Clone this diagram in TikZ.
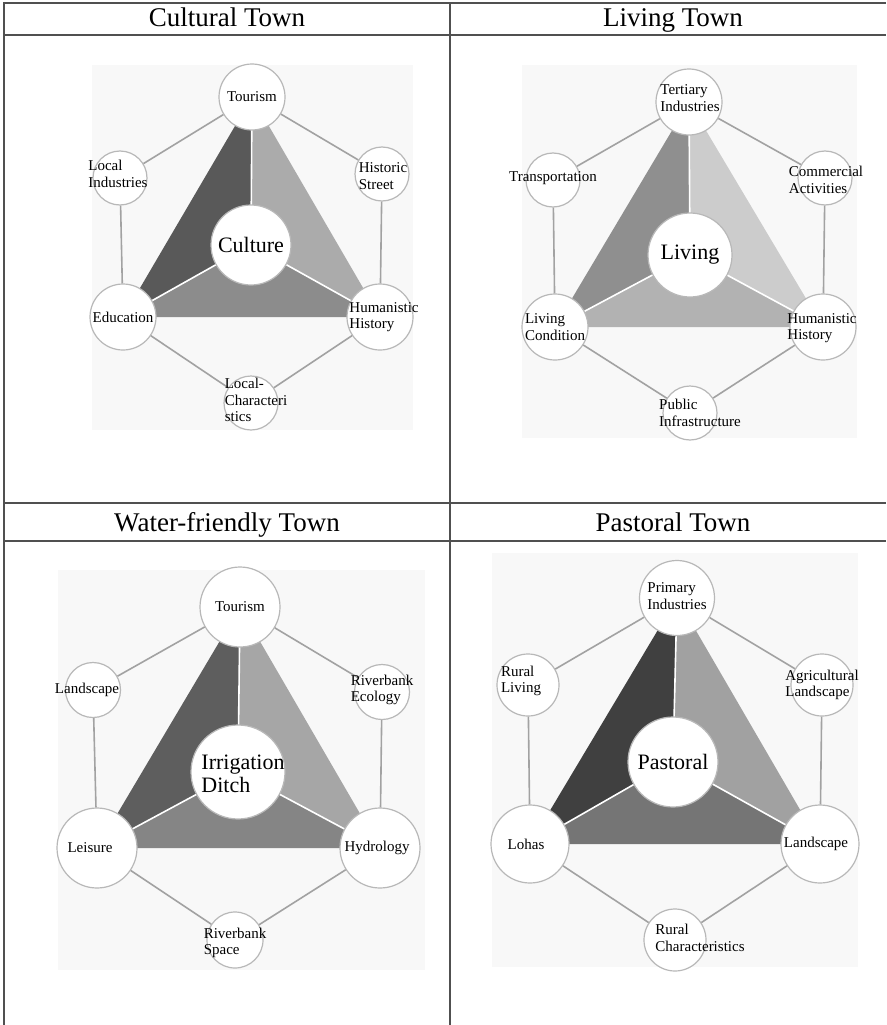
\documentclass[tikz,border=0pt]{standalone}
\usepackage{fontspec}
\setmainfont{Liberation Serif}
\usepackage{tikz}

\definecolor{rulegray}{HTML}{505050}
\definecolor{ringgray}{HTML}{B8B8B8}
\definecolor{linkgray}{HTML}{A2A2A2}
\definecolor{panelbg}{HTML}{F8F8F8}

\begin{document}
\begin{tikzpicture}[x=1pt, y=-1pt,
	rule/.style={draw=rulegray, line width=1.3pt},
	head/.style={font=\fontsize{27}{29}\selectfont, inner sep=0pt, anchor=base},
	ring/.style={circle, draw=ringgray, line width=1.2pt, fill=white, inner sep=0pt},
	link/.style={draw=linkgray, line width=1.6pt},
	split/.style={draw=white, line width=1.6pt},
	lbl/.style={align=left, inner sep=0pt, font=\fontsize{15}{16.5}\selectfont},
	core/.style={align=left, inner sep=0pt, font=\fontsize{22}{23}\selectfont}]
	\useasboundingbox (0,0) rectangle (886,1025);

	% table frame
	\draw[rule] (4,1025) -- (4,3) -- (886,3);
	\draw[rule] (4,35) -- (886,35);
	\draw[rule] (4,503) -- (886,503);
	\draw[rule] (4,541) -- (886,541);
	\draw[rule] (450,3) -- (450,1025);
	\node[head] (h1) at (227,27) {Cultural Town};
	\node[head] (h2) at (673,27) {Living Town};
	\node[head] (h3) at (227,531) {Water-friendly Town};
	\node[head] (h4) at (673,531) {Pastoral Town};

	% Cultural town
	\fill[panelbg] (92,65) rectangle (413,430);
	\coordinate (a1) at (252,97);
	\coordinate (a2) at (123,317);
	\coordinate (a3) at (380,317);
	\coordinate (a0) at (251,245);
	\fill[black!65] (a1) -- (a2) -- (a0) -- cycle;
	\fill[black!33] (a1) -- (a3) -- (a0) -- cycle;
	\fill[black!45] (a2) -- (a3) -- (a0) -- cycle;
	\path[split] (a0) -- (a1) (a0) -- (a2) (a0) -- (a3);
	\node[ring, minimum size=66] (tour) at (a1) {};
	\node[ring, minimum size=66] (edu) at (a2) {};
	\node[ring, minimum size=66] (hum) at (a3) {};
	\node[ring, minimum size=80] (cult) at (a0) {};
	\node[ring, minimum size=54] (ind) at (120,178) {};
	\node[ring, minimum size=54] (street) at (382,174) {};
	\node[ring, minimum size=54] (local) at (251,403) {};
	\path (tour) edge[link] (ind)
		(ind) edge[link] (edu)
		(edu) edge[link] (local)
		(local) edge[link] (hum)
		(hum) edge[link] (street)
		(street) edge[link] (tour);
	\node[lbl] at (252,97) {Tourism};
	\node[core] at (251,245) {Culture};
	\node[lbl] at (118,174) {Local\\Industries};
	\node[lbl] at (383,176) {Historic\\Street};
	\node[lbl] at (123,317) {Education};
	\node[lbl] at (384,317) {Humanistic\\History};
	\node[lbl] at (256,400) {Local-\\Characteri\\stics};

	% Living town
	\fill[panelbg] (522,65) rectangle (857,438);
	\coordinate (b1) at (689,102);
	\coordinate (b2) at (555,327);
	\coordinate (b3) at (823,327);
	\coordinate (b0) at (690,255);
	\fill[black!44] (b1) -- (b2) -- (b0) -- cycle;
	\fill[black!20] (b1) -- (b3) -- (b0) -- cycle;
	\fill[black!30] (b2) -- (b3) -- (b0) -- cycle;
	\path[split] (b0) -- (b1) (b0) -- (b2) (b0) -- (b3);
	\node[ring, minimum size=66] (tert) at (b1) {};
	\node[ring, minimum size=66] (cond) at (b2) {};
	\node[ring, minimum size=66] (hist) at (b3) {};
	\node[ring, minimum size=84] (liv) at (b0) {};
	\node[ring, minimum size=54] (trans) at (553,180) {};
	\node[ring, minimum size=54] (comm) at (825,178) {};
	\node[ring, minimum size=54] (pub) at (690,413) {};
	\path (tert) edge[link] (trans)
		(trans) edge[link] (cond)
		(cond) edge[link] (pub)
		(pub) edge[link] (hist)
		(hist) edge[link] (comm)
		(comm) edge[link] (tert);
	\node[lbl] at (690,98) {Tertiary\\Industries};
	\node[lbl] at (553,178) {Transportation};
	\node[lbl] at (826,180) {Commercial\\Activities};
	\node[core] at (690,255) {Living};
	\node[lbl] at (555,327) {Living\\Condition};
	\node[lbl] at (822,328) {Humanistic\\History};
	\node[lbl] at (700,413) {Public\\Infrastructure};

	% Water-friendly town
	\fill[panelbg] (58,570) rectangle (425,970);
	\coordinate (c1) at (240,607);
	\coordinate (c2) at (97,848);
	\coordinate (c3) at (380,848);
	\coordinate (c0) at (238,772);
	\fill[black!63] (c1) -- (c2) -- (c0) -- cycle;
	\fill[black!35] (c1) -- (c3) -- (c0) -- cycle;
	\fill[black!48] (c2) -- (c3) -- (c0) -- cycle;
	\path[split] (c0) -- (c1) (c0) -- (c2) (c0) -- (c3);
	\node[ring, minimum size=80] (wtour) at (c1) {};
	\node[ring, minimum size=80] (leis) at (c2) {};
	\node[ring, minimum size=80] (hydro) at (c3) {};
	\node[ring, minimum size=94] (ditch) at (c0) {};
	\node[ring, minimum size=55] (land) at (93,690) {};
	\node[ring, minimum size=55] (eco) at (382,692) {};
	\node[ring, minimum size=56] (space) at (235,940) {};
	\path (wtour) edge[link] (land)
		(land) edge[link] (leis)
		(leis) edge[link] (space)
		(space) edge[link] (hydro)
		(hydro) edge[link] (eco)
		(eco) edge[link] (wtour);
	\node[lbl] at (240,607) {Tourism};
	\node[lbl] at (87,690) {Landscape};
	\node[lbl] at (382,690) {Riverbank\\Ecology};
	\node[core] at (243,774) {Irrigation\\Ditch};
	\node[lbl] at (90,848) {Leisure};
	\node[lbl] at (377,848) {Hydrology};
	\node[lbl] at (235,943) {Riverbank\\Space};

	% Pastoral town
	\fill[panelbg] (492,553) rectangle (858,967);
	\coordinate (d1) at (677,598);
	\coordinate (d2) at (530,844);
	\coordinate (d3) at (820,844);
	\coordinate (d0) at (673,762);
	\fill[black!75] (d1) -- (d2) -- (d0) -- cycle;
	\fill[black!37] (d1) -- (d3) -- (d0) -- cycle;
	\fill[black!54] (d2) -- (d3) -- (d0) -- cycle;
	\path[split] (d0) -- (d1) (d0) -- (d2) (d0) -- (d3);
	\node[ring, minimum size=75] (prim) at (d1) {};
	\node[ring, minimum size=78] (lohas) at (d2) {};
	\node[ring, minimum size=78] (plan) at (d3) {};
	\node[ring, minimum size=90] (past) at (d0) {};
	\node[ring, minimum size=62] (rliv) at (528,685) {};
	\node[ring, minimum size=62] (agri) at (822,685) {};
	\node[ring, minimum size=62] (rchar) at (675,940) {};
	\path (prim) edge[link] (rliv)
		(rliv) edge[link] (lohas)
		(lohas) edge[link] (rchar)
		(rchar) edge[link] (plan)
		(plan) edge[link] (agri)
		(agri) edge[link] (prim);
	\node[lbl] at (677,596) {Primary\\Industries};
	\node[lbl] at (521,681) {Rural\\Living};
	\node[lbl] at (822,685) {Agricultural\\Landscape};
	\node[core] at (673,762) {Pastoral};
	\node[lbl] at (526,844) {Lohas};
	\node[lbl] at (816,844) {Landscape};
	\node[lbl] at (700,938) {Rural\\Characteristics};
\end{tikzpicture}
\end{document}
